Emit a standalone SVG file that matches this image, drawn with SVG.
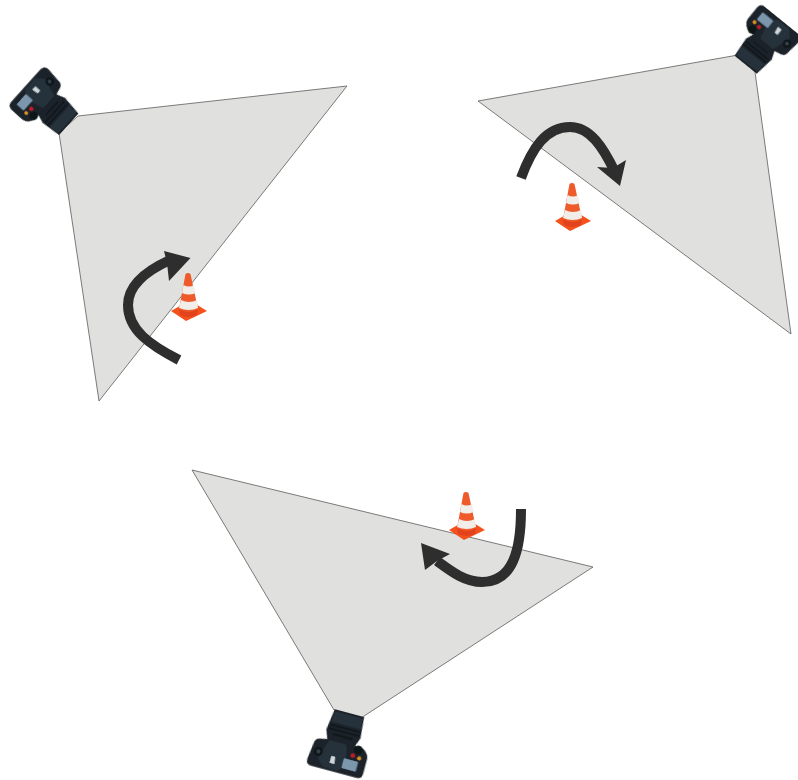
<svg xmlns="http://www.w3.org/2000/svg" width="798" height="780" viewBox="0 0 798 780">
<style>
.fov{fill:#e0e1de;stroke:#5c5c5c;stroke-width:.8}
.arc{fill:none;stroke:#2e2e2e;stroke-width:10}
.tip{fill:#2e2e2e}
.dk{fill:#1a2229}
.md{fill:#27323b}
.ln{fill:#35424d}
.rib{stroke:#0e1418;stroke-width:1.3;fill:none}
</style>
<defs>
<filter id="soft" x="-10%" y="-10%" width="120%" height="120%"><feGaussianBlur stdDeviation="0.45"/></filter>
<g id="camera" filter="url(#soft)">
<path class="dk" d="M-15 0L16 0L18 22L14 33H-14L-18 22Z"/>
<path class="md" d="M-14 2H15L16 13H-15Z"/>
<path class="rib" d="M-15 16H16M-15 20H16M-10 25H10"/>
<path class="dk" d="M-27 40Q-27 34-22 33L-13 31H13L20 30Q29 33 30 40V56Q30 62 24 62H-23Q-29 62-29 56Z"/>
<path class="md" d="M-12 32H6L11 52L4 60H-12L-19 52Z"/>
<path d="M-6 47H-2L-1 54H-6Z" fill="#cfd8dd"/>
<rect x="7" y="46" width="15" height="10" rx="1" fill="#7c97ad"/>
<circle cx="15" cy="41" r="2.200" fill="#c11f28"/>
<circle cx="22" cy="42" r="2" fill="#dc9320"/>
<circle cx="19" cy="34" r="4.500" fill="#0e1418"/>
<circle cx="-20" cy="46" r="4.500" fill="#0e1418"/>
<circle cx="-20" cy="46" r="2" class="ln"/>
</g>
<g id="cone" filter="url(#soft)">
<path d="M-17 38L-3 30H6L19 38L-2 48Z" fill="#f4511e"/>
<path d="M-9 36L-2.500 1Q0 -1 2.500 1L10 36Q1 43-9 36Z" fill="#ee5a2b"/>
<path d="M-4.500 12Q1 15 6 12L7.500 20Q1 23-6 20Z" fill="#f1eeea"/>
<path d="M-7 27Q1 31 9 27L10 35Q1 39-9 35Z" fill="#f1eeea"/>
<path d="M-9 36Q1 42 10 36L9 42Q1 46-8 42Z" fill="#e2431a"/>
</g>
</defs>
<g id="view-1"><path class="fov" d="M78 116L347 86L99 401L59 133Z"/></g>
<g id="view-2"><path class="fov" d="M738 55L478 101L791 334L755 72Z"/></g>
<g id="view-3"><path class="fov" d="M334 710L192 470L593 567L361 718Z"/></g>
<g id="cone-1"><use href="#cone" transform="translate(188 273)"/></g>
<g id="cone-2"><use href="#cone" transform="translate(572 183)"/></g>
<g id="cone-3"><use href="#cone" transform="translate(466 492)"/></g>
<g id="camera-1"><use href="#camera" transform="translate(69 124) rotate(132) scale(.93)"/></g>
<g id="camera-2"><use href="#camera" transform="translate(746 65) rotate(219) scale(.92)"/></g>
<g id="camera-3"><use href="#camera" transform="translate(349 713) rotate(15) scale(.98)"/></g>
<g id="connectors">
<path class="arc" d="M179 360C150 345 128 330 128 305C128 285 148 270 170 260"/>
<path class="tip" d="M190.500 258L164 251L167 263L169 281Z"/>
<path class="arc" d="M521 178C532 148 546 127 570 127C590 127 603 147 615 172"/>
<path class="tip" d="M620 186L626 160L613 168L597 167Z"/>
<path class="arc" d="M521 509C521 550 513 582 482 582C465 582 452 572 437 561"/>
<path class="tip" d="M421 543L450 554L437 561L425 570Z"/>
</g>
</svg>
